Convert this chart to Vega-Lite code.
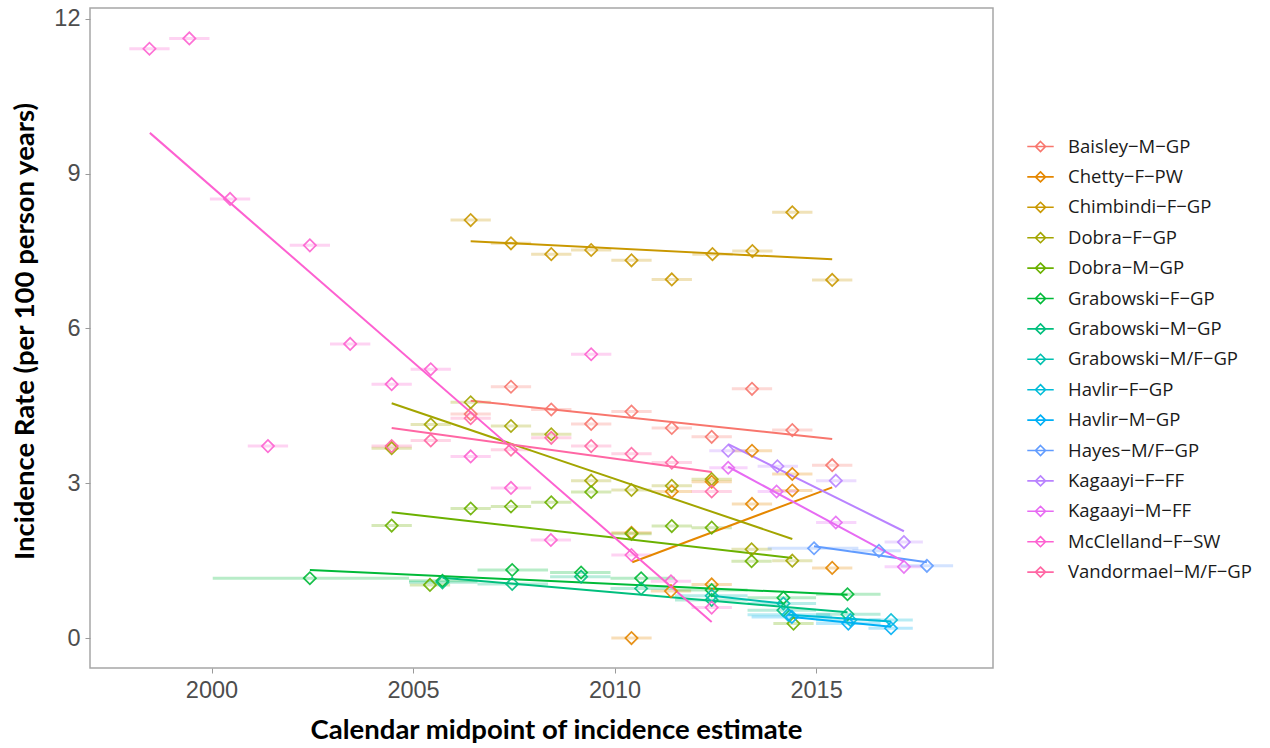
{
  "$schema": "https://vega.github.io/schema/vega-lite/v6.json",
  "autosize": {"type": "none"},
  "padding": {"left": 90, "top": 8, "right": 277, "bottom": 80},
  "width": 903,
  "height": 660,
  "background": "white",
  "config": {
    "view": {"stroke": "#a6a6a6", "strokeWidth": 1.5},
    "axis": {"grid": false, "domain": false, "tickColor": "#9a9a9a", "tickSize": 5, "labelFont": "Liberation Sans", "labelFontSize": 23.5, "labelColor": "#4d4d4d", "titleFont": "Lato", "titleFontSize": 27.5, "titleFontWeight": "bold", "titleColor": "#000000"},
    "legend": {"labelFont": "Open Sans", "labelFontSize": 18.5, "labelColor": "#1a1a1a"}
  },
  "datasets": {
    "pts": [
      {"g": "Baisley−M−GP", "x": 2006.43, "y": 4.34, "lo": 2005.93, "hi": 2006.93},
      {"g": "Baisley−M−GP", "x": 2007.43, "y": 4.87, "lo": 2006.93, "hi": 2007.93},
      {"g": "Baisley−M−GP", "x": 2008.43, "y": 4.43, "lo": 2007.93, "hi": 2008.93},
      {"g": "Baisley−M−GP", "x": 2009.42, "y": 4.15, "lo": 2008.92, "hi": 2009.92},
      {"g": "Baisley−M−GP", "x": 2010.42, "y": 4.39, "lo": 2009.92, "hi": 2010.92},
      {"g": "Baisley−M−GP", "x": 2011.42, "y": 4.07, "lo": 2010.92, "hi": 2011.92},
      {"g": "Baisley−M−GP", "x": 2012.41, "y": 3.90, "lo": 2011.91, "hi": 2012.91},
      {"g": "Baisley−M−GP", "x": 2013.41, "y": 4.83, "lo": 2012.91, "hi": 2013.91},
      {"g": "Baisley−M−GP", "x": 2014.41, "y": 4.03, "lo": 2013.91, "hi": 2014.91},
      {"g": "Baisley−M−GP", "x": 2015.40, "y": 3.35, "lo": 2014.90, "hi": 2015.90},
      {"g": "Chetty−F−PW", "x": 2010.42, "y": 2.04, "lo": 2009.92, "hi": 2010.92},
      {"g": "Chetty−F−PW", "x": 2010.42, "y": 0.00, "lo": 2009.92, "hi": 2010.92},
      {"g": "Chetty−F−PW", "x": 2011.42, "y": 2.84, "lo": 2010.92, "hi": 2011.92},
      {"g": "Chetty−F−PW", "x": 2011.40, "y": 0.91, "lo": 2010.90, "hi": 2011.90},
      {"g": "Chetty−F−PW", "x": 2012.41, "y": 3.03, "lo": 2011.91, "hi": 2012.91},
      {"g": "Chetty−F−PW", "x": 2012.41, "y": 1.04, "lo": 2011.91, "hi": 2012.91},
      {"g": "Chetty−F−PW", "x": 2013.41, "y": 3.63, "lo": 2012.91, "hi": 2013.91},
      {"g": "Chetty−F−PW", "x": 2013.41, "y": 2.60, "lo": 2012.91, "hi": 2013.91},
      {"g": "Chetty−F−PW", "x": 2014.41, "y": 3.18, "lo": 2013.91, "hi": 2014.91},
      {"g": "Chetty−F−PW", "x": 2014.41, "y": 2.86, "lo": 2013.91, "hi": 2014.91},
      {"g": "Chetty−F−PW", "x": 2015.40, "y": 1.36, "lo": 2014.90, "hi": 2015.90},
      {"g": "Chimbindi−F−GP", "x": 2006.43, "y": 8.10, "lo": 2005.93, "hi": 2006.93},
      {"g": "Chimbindi−F−GP", "x": 2007.43, "y": 7.65, "lo": 2006.93, "hi": 2007.93},
      {"g": "Chimbindi−F−GP", "x": 2008.43, "y": 7.44, "lo": 2007.93, "hi": 2008.93},
      {"g": "Chimbindi−F−GP", "x": 2009.42, "y": 7.52, "lo": 2008.92, "hi": 2009.92},
      {"g": "Chimbindi−F−GP", "x": 2010.42, "y": 7.32, "lo": 2009.92, "hi": 2010.92},
      {"g": "Chimbindi−F−GP", "x": 2011.42, "y": 6.95, "lo": 2010.92, "hi": 2011.92},
      {"g": "Chimbindi−F−GP", "x": 2012.43, "y": 7.44, "lo": 2011.93, "hi": 2012.93},
      {"g": "Chimbindi−F−GP", "x": 2013.42, "y": 7.50, "lo": 2012.92, "hi": 2013.92},
      {"g": "Chimbindi−F−GP", "x": 2014.41, "y": 8.25, "lo": 2013.91, "hi": 2014.91},
      {"g": "Chimbindi−F−GP", "x": 2015.40, "y": 6.94, "lo": 2014.90, "hi": 2015.90},
      {"g": "Dobra−F−GP", "x": 2004.47, "y": 3.68, "lo": 2003.97, "hi": 2004.97},
      {"g": "Dobra−F−GP", "x": 2005.44, "y": 4.14, "lo": 2004.94, "hi": 2005.94},
      {"g": "Dobra−F−GP", "x": 2006.43, "y": 4.57, "lo": 2005.93, "hi": 2006.93},
      {"g": "Dobra−F−GP", "x": 2007.43, "y": 4.11, "lo": 2006.93, "hi": 2007.93},
      {"g": "Dobra−F−GP", "x": 2008.43, "y": 3.95, "lo": 2007.93, "hi": 2008.93},
      {"g": "Dobra−F−GP", "x": 2009.42, "y": 3.05, "lo": 2008.92, "hi": 2009.92},
      {"g": "Dobra−F−GP", "x": 2010.42, "y": 2.87, "lo": 2009.92, "hi": 2010.92},
      {"g": "Dobra−F−GP", "x": 2011.42, "y": 2.95, "lo": 2010.92, "hi": 2011.92},
      {"g": "Dobra−F−GP", "x": 2012.41, "y": 3.08, "lo": 2011.91, "hi": 2012.91},
      {"g": "Dobra−F−GP", "x": 2013.40, "y": 1.72, "lo": 2012.90, "hi": 2013.90},
      {"g": "Dobra−F−GP", "x": 2014.41, "y": 1.50, "lo": 2013.91, "hi": 2014.91},
      {"g": "Dobra−M−GP", "x": 2004.47, "y": 2.18, "lo": 2003.97, "hi": 2004.97},
      {"g": "Dobra−M−GP", "x": 2005.42, "y": 1.03, "lo": 2004.92, "hi": 2005.92},
      {"g": "Dobra−M−GP", "x": 2006.43, "y": 2.51, "lo": 2005.93, "hi": 2006.93},
      {"g": "Dobra−M−GP", "x": 2007.43, "y": 2.55, "lo": 2006.93, "hi": 2007.93},
      {"g": "Dobra−M−GP", "x": 2008.43, "y": 2.63, "lo": 2007.93, "hi": 2008.93},
      {"g": "Dobra−M−GP", "x": 2009.42, "y": 2.83, "lo": 2008.92, "hi": 2009.92},
      {"g": "Dobra−M−GP", "x": 2010.42, "y": 2.02, "lo": 2009.92, "hi": 2010.92},
      {"g": "Dobra−M−GP", "x": 2011.42, "y": 2.17, "lo": 2010.92, "hi": 2011.92},
      {"g": "Dobra−M−GP", "x": 2012.41, "y": 2.14, "lo": 2011.91, "hi": 2012.91},
      {"g": "Dobra−M−GP", "x": 2013.40, "y": 1.49, "lo": 2012.90, "hi": 2013.90},
      {"g": "Dobra−M−GP", "x": 2014.44, "y": 0.28, "lo": 2013.94, "hi": 2014.94},
      {"g": "Grabowski−F−GP", "x": 2002.44, "y": 1.16, "lo": 2000.03, "hi": 2004.90},
      {"g": "Grabowski−F−GP", "x": 2005.73, "y": 1.11, "lo": 2004.90, "hi": 2006.60},
      {"g": "Grabowski−F−GP", "x": 2007.46, "y": 1.32, "lo": 2006.60, "hi": 2008.35},
      {"g": "Grabowski−F−GP", "x": 2009.17, "y": 1.27, "lo": 2008.40, "hi": 2009.90},
      {"g": "Grabowski−F−GP", "x": 2010.66, "y": 1.16, "lo": 2009.90, "hi": 2011.50},
      {"g": "Grabowski−F−GP", "x": 2012.41, "y": 0.93, "lo": 2011.50, "hi": 2013.30},
      {"g": "Grabowski−F−GP", "x": 2014.19, "y": 0.78, "lo": 2013.30, "hi": 2015.00},
      {"g": "Grabowski−F−GP", "x": 2015.78, "y": 0.85, "lo": 2015.00, "hi": 2016.60},
      {"g": "Grabowski−M−GP", "x": 2005.73, "y": 1.08, "lo": 2004.90, "hi": 2006.60},
      {"g": "Grabowski−M−GP", "x": 2007.46, "y": 1.05, "lo": 2006.60, "hi": 2008.35},
      {"g": "Grabowski−M−GP", "x": 2009.17, "y": 1.19, "lo": 2008.40, "hi": 2009.90},
      {"g": "Grabowski−M−GP", "x": 2010.66, "y": 0.96, "lo": 2009.90, "hi": 2011.50},
      {"g": "Grabowski−M−GP", "x": 2012.41, "y": 0.74, "lo": 2011.50, "hi": 2013.30},
      {"g": "Grabowski−M−GP", "x": 2014.19, "y": 0.54, "lo": 2013.30, "hi": 2015.00},
      {"g": "Grabowski−M−GP", "x": 2015.78, "y": 0.46, "lo": 2015.00, "hi": 2016.60},
      {"g": "Grabowski−M/F−GP", "x": 2012.41, "y": 0.82, "lo": 2011.50, "hi": 2013.30},
      {"g": "Grabowski−M/F−GP", "x": 2014.19, "y": 0.67, "lo": 2013.30, "hi": 2015.00},
      {"g": "Havlir−F−GP", "x": 2014.31, "y": 0.45, "lo": 2013.30, "hi": 2015.35},
      {"g": "Havlir−F−GP", "x": 2015.85, "y": 0.35, "lo": 2015.00, "hi": 2016.60},
      {"g": "Havlir−F−GP", "x": 2016.86, "y": 0.35, "lo": 2016.30, "hi": 2017.40},
      {"g": "Havlir−M−GP", "x": 2014.40, "y": 0.41, "lo": 2013.40, "hi": 2015.40},
      {"g": "Havlir−M−GP", "x": 2015.80, "y": 0.28, "lo": 2015.00, "hi": 2016.60},
      {"g": "Havlir−M−GP", "x": 2016.86, "y": 0.19, "lo": 2016.30, "hi": 2017.40},
      {"g": "Hayes−M/F−GP", "x": 2014.95, "y": 1.74, "lo": 2013.80, "hi": 2016.05},
      {"g": "Hayes−M/F−GP", "x": 2016.56, "y": 1.69, "lo": 2015.90, "hi": 2017.10},
      {"g": "Hayes−M/F−GP", "x": 2017.75, "y": 1.40, "lo": 2017.10, "hi": 2018.40},
      {"g": "Kagaayi−F−FF", "x": 2012.82, "y": 3.63, "lo": 2012.35, "hi": 2013.30},
      {"g": "Kagaayi−F−FF", "x": 2014.04, "y": 3.33, "lo": 2013.55, "hi": 2014.55},
      {"g": "Kagaayi−F−FF", "x": 2015.49, "y": 3.05, "lo": 2015.00, "hi": 2016.00},
      {"g": "Kagaayi−F−FF", "x": 2017.18, "y": 1.86, "lo": 2016.70, "hi": 2017.65},
      {"g": "Kagaayi−M−FF", "x": 2012.82, "y": 3.30, "lo": 2012.35, "hi": 2013.30},
      {"g": "Kagaayi−M−FF", "x": 2014.02, "y": 2.84, "lo": 2013.55, "hi": 2014.55},
      {"g": "Kagaayi−M−FF", "x": 2015.49, "y": 2.24, "lo": 2015.00, "hi": 2016.00},
      {"g": "Kagaayi−M−FF", "x": 2017.18, "y": 1.38, "lo": 2016.70, "hi": 2017.65},
      {"g": "McClelland−F−SW", "x": 1998.46, "y": 11.42, "lo": 1997.96, "hi": 1998.96},
      {"g": "McClelland−F−SW", "x": 1999.45, "y": 11.62, "lo": 1998.95, "hi": 1999.95},
      {"g": "McClelland−F−SW", "x": 2000.46, "y": 8.51, "lo": 1999.96, "hi": 2000.96},
      {"g": "McClelland−F−SW", "x": 2001.40, "y": 3.72, "lo": 2000.90, "hi": 2001.90},
      {"g": "McClelland−F−SW", "x": 2002.44, "y": 7.61, "lo": 2001.94, "hi": 2002.94},
      {"g": "McClelland−F−SW", "x": 2003.44, "y": 5.70, "lo": 2002.94, "hi": 2003.94},
      {"g": "McClelland−F−SW", "x": 2004.47, "y": 4.92, "lo": 2003.97, "hi": 2004.97},
      {"g": "McClelland−F−SW", "x": 2005.44, "y": 5.21, "lo": 2004.94, "hi": 2005.94},
      {"g": "McClelland−F−SW", "x": 2006.43, "y": 3.52, "lo": 2005.93, "hi": 2006.93},
      {"g": "McClelland−F−SW", "x": 2007.43, "y": 2.91, "lo": 2006.93, "hi": 2007.93},
      {"g": "McClelland−F−SW", "x": 2008.42, "y": 1.90, "lo": 2007.92, "hi": 2008.92},
      {"g": "McClelland−F−SW", "x": 2009.42, "y": 5.50, "lo": 2008.92, "hi": 2009.92},
      {"g": "McClelland−F−SW", "x": 2010.42, "y": 1.61, "lo": 2009.92, "hi": 2010.92},
      {"g": "McClelland−F−SW", "x": 2011.40, "y": 1.10, "lo": 2010.90, "hi": 2011.90},
      {"g": "McClelland−F−SW", "x": 2012.41, "y": 0.59, "lo": 2011.91, "hi": 2012.91},
      {"g": "Vandormael−M/F−GP", "x": 2004.47, "y": 3.72, "lo": 2003.97, "hi": 2004.97},
      {"g": "Vandormael−M/F−GP", "x": 2005.44, "y": 3.83, "lo": 2004.94, "hi": 2005.94},
      {"g": "Vandormael−M/F−GP", "x": 2006.43, "y": 4.26, "lo": 2005.93, "hi": 2006.93},
      {"g": "Vandormael−M/F−GP", "x": 2007.43, "y": 3.65, "lo": 2006.93, "hi": 2007.93},
      {"g": "Vandormael−M/F−GP", "x": 2008.43, "y": 3.88, "lo": 2007.93, "hi": 2008.93},
      {"g": "Vandormael−M/F−GP", "x": 2009.42, "y": 3.72, "lo": 2008.92, "hi": 2009.92},
      {"g": "Vandormael−M/F−GP", "x": 2010.42, "y": 3.57, "lo": 2009.92, "hi": 2010.92},
      {"g": "Vandormael−M/F−GP", "x": 2011.42, "y": 3.40, "lo": 2010.92, "hi": 2011.92},
      {"g": "Vandormael−M/F−GP", "x": 2012.41, "y": 2.84, "lo": 2011.91, "hi": 2012.91}
    ],
    "fits": [
      {"g": "Baisley−M−GP", "x": 2006.43, "y": 4.60},
      {"g": "Baisley−M−GP", "x": 2015.40, "y": 3.86},
      {"g": "Chetty−F−PW", "x": 2010.44, "y": 1.47},
      {"g": "Chetty−F−PW", "x": 2015.40, "y": 2.92},
      {"g": "Chimbindi−F−GP", "x": 2006.43, "y": 7.69},
      {"g": "Chimbindi−F−GP", "x": 2015.40, "y": 7.34},
      {"g": "Dobra−F−GP", "x": 2004.47, "y": 4.55},
      {"g": "Dobra−F−GP", "x": 2014.41, "y": 1.92},
      {"g": "Dobra−M−GP", "x": 2004.47, "y": 2.44},
      {"g": "Dobra−M−GP", "x": 2014.41, "y": 1.55},
      {"g": "Grabowski−F−GP", "x": 2002.44, "y": 1.32},
      {"g": "Grabowski−F−GP", "x": 2015.78, "y": 0.84},
      {"g": "Grabowski−M−GP", "x": 2005.73, "y": 1.17},
      {"g": "Grabowski−M−GP", "x": 2015.78, "y": 0.50},
      {"g": "Grabowski−M/F−GP", "x": 2012.41, "y": 0.82},
      {"g": "Grabowski−M/F−GP", "x": 2014.19, "y": 0.67},
      {"g": "Havlir−F−GP", "x": 2014.31, "y": 0.45},
      {"g": "Havlir−F−GP", "x": 2016.86, "y": 0.32},
      {"g": "Havlir−M−GP", "x": 2014.40, "y": 0.41},
      {"g": "Havlir−M−GP", "x": 2016.86, "y": 0.22},
      {"g": "Hayes−M/F−GP", "x": 2014.95, "y": 1.78},
      {"g": "Hayes−M/F−GP", "x": 2017.75, "y": 1.47},
      {"g": "Kagaayi−F−FF", "x": 2012.82, "y": 3.76},
      {"g": "Kagaayi−F−FF", "x": 2017.18, "y": 2.07},
      {"g": "Kagaayi−M−FF", "x": 2012.82, "y": 3.32},
      {"g": "Kagaayi−M−FF", "x": 2017.18, "y": 1.48},
      {"g": "McClelland−F−SW", "x": 1998.47, "y": 9.79},
      {"g": "McClelland−F−SW", "x": 2012.41, "y": 0.31},
      {"g": "Vandormael−M/F−GP", "x": 2004.47, "y": 4.07},
      {"g": "Vandormael−M/F−GP", "x": 2012.41, "y": 3.22}
    ]
  },
  "encoding": {
    "x": {"field": "x", "type": "quantitative", "scale": {"domain": [1996.985, 2019.39], "nice": false, "zero": false},
      "axis": {"values": [2000, 2005, 2010, 2015], "format": "d", "labelFlush": false, "labelPadding": 5, "title": "Calendar midpoint of incidence estimate", "titleX": 466, "titleY": 62, "titleAlign": "center", "titleBaseline": "middle"}},
    "y": {"field": "y", "type": "quantitative", "scale": {"domain": [-0.58, 12.21], "nice": false, "zero": false},
      "axis": {"values": [0, 3, 6, 9, 12], "labelPadding": 5, "labelFlush": false, "title": "Incidence Rate (per 100 person years)", "titleX": -65, "titleY": 323, "titleAlign": "center", "titleBaseline": "middle", "titleAngle": -90}},
    "color": {"field": "g", "type": "nominal",
      "scale": {"domain": ["Baisley−M−GP", "Chetty−F−PW", "Chimbindi−F−GP", "Dobra−F−GP", "Dobra−M−GP", "Grabowski−F−GP", "Grabowski−M−GP", "Grabowski−M/F−GP", "Havlir−F−GP", "Havlir−M−GP", "Hayes−M/F−GP", "Kagaayi−F−FF", "Kagaayi−M−FF", "McClelland−F−SW", "Vandormael−M/F−GP"],
        "range": ["#F8766D", "#E58700", "#C99800", "#A3A500", "#6BB100", "#00BA38", "#00BF7D", "#00C0AF", "#00BCD8", "#00B0F6", "#619CFF", "#B983FF", "#E76BF3", "#FD61D1", "#FF67A4"]},
      "legend": {"title": null, "orient": "none", "legendX": 936, "legendY": 124, "padding": 0, "symbolType": "M-1,0H1M0,-0.38L0.38,0L0,0.38L-0.38,0Z", "symbolSize": 700, "symbolStrokeWidth": 1.6, "symbolFillColor": "transparent", "symbolOpacity": 1, "labelOffset": 13, "rowPadding": 6.4, "labelLimit": 300}}
  },
  "layer": [
    {
      "data": {"name": "pts"},
      "mark": {"type": "rule", "strokeWidth": 3, "opacity": 0.28},
      "encoding": {"x": {"field": "lo", "type": "quantitative"}, "x2": {"field": "hi"}}
    },
    {
      "data": {"name": "fits"},
      "mark": {"type": "line", "strokeWidth": 2},
      "encoding": {"detail": {"field": "g"}}
    },
    {
      "data": {"name": "pts"},
      "mark": {"type": "point", "shape": "diamond", "filled": false, "size": 150, "strokeWidth": 1.7, "opacity": 0.9}
    }
  ]
}
